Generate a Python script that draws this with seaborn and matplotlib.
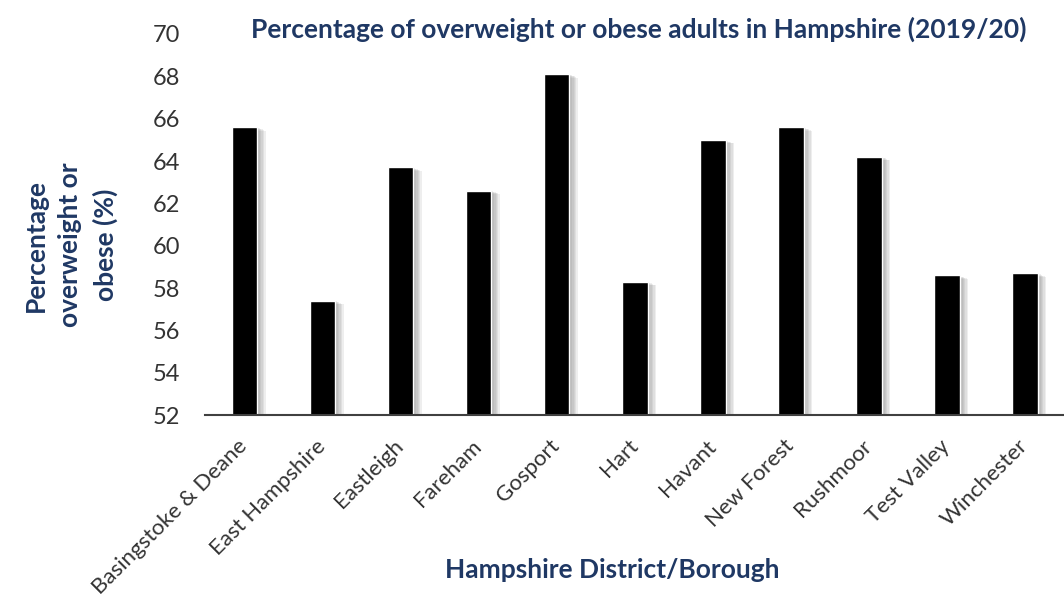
import matplotlib
matplotlib.use("Agg")
import matplotlib.pyplot as plt
import matplotlib.patheffects as pe
import seaborn as sns
import pandas as pd

districts = ['Basingstoke & Deane', 'East Hampshire', 'Eastleigh', 'Fareham', 'Gosport',
             'Hart', 'Havant', 'New Forest', 'Rushmoor', 'Test Valley', 'Winchester']
pct = [65.6, 57.4, 63.7, 62.6, 68.1, 58.3, 65.0, 65.6, 64.2, 58.6, 58.7]
yticks = [52, 54, 56, 58, 60, 62, 64, 66, 68, 70]

df = pd.DataFrame({'district': districts, 'pct': pct})

sns.set_style('white')
plt.rcParams['font.family'] = ['Lato', 'DejaVu Sans']
navy = '#1f3864'

fig = plt.figure(figsize=(10.64, 6.07), dpi=100)
ax = fig.add_axes([0.193, 0.316, 0.807, 0.628])

sns.barplot(data=df, x='district', y='pct', color='black', width=0.33,
            saturation=1, ax=ax)

# soft drop shadow to the right of each bar
shadow = [pe.SimplePatchShadow(offset=(k, -0.4 * k), shadow_rgbFace='#808080', alpha=0.13)
          for k in range(6, 0, -1)]
for bar in ax.patches:
    bar.set_path_effects(shadow + [pe.Normal()])

ax.set_ylim(52, 70)
ax.set_yticks(yticks)
ax.set_yticklabels([str(t) for t in yticks], fontsize=17, color='#333333')
ax.set_xticks(range(len(districts)))
ax.set_xticklabels(districts, rotation=45, ha='right', va='center', rotation_mode='anchor',
                   fontsize=16, color='#333333')
ax.tick_params(axis='y', length=0, pad=18)
ax.tick_params(axis='x', length=0, pad=20)

for s in ['top', 'right', 'left']:
    ax.spines[s].set_visible(False)
ax.spines['bottom'].set_color('#404040')
ax.spines['bottom'].set_linewidth(1.5)

ax.set_xlabel('Hampshire District/Borough', fontsize=19, fontweight='bold', color=navy)
ax.xaxis.set_label_coords(0.474, -0.375)
ax.set_ylabel('Percentage\noverweight or\nobese (%)', fontsize=19, fontweight='bold', color=navy,
              linespacing=1.5)
ax.yaxis.set_label_coords(-0.102, 0.446)
fig.text(0.60, 0.951, 'Percentage of overweight or obese adults in Hampshire (2019/20)',
         ha='center', va='center', fontsize=19, fontweight='bold', color=navy)

fig.savefig('out.png', dpi=100)
